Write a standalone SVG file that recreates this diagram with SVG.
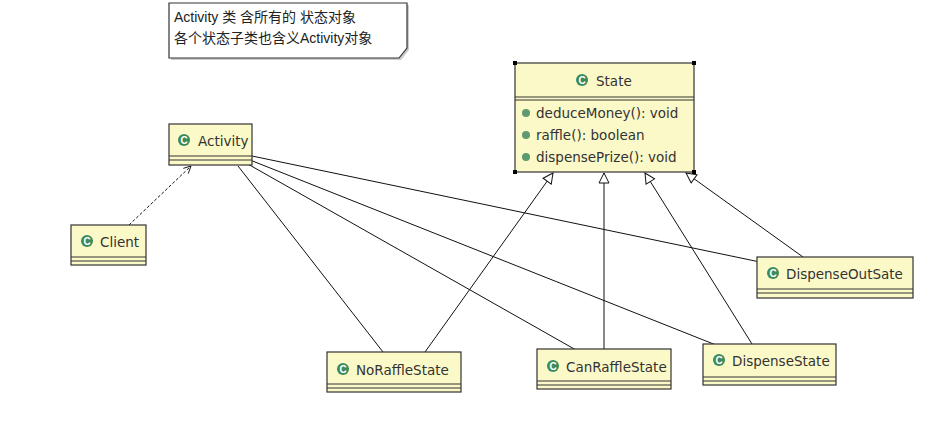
<svg xmlns="http://www.w3.org/2000/svg" width="926" height="426" viewBox="0 0 926 426">
<defs>
<style>
.box{fill:#fbf9c8;stroke:#333;stroke-width:1.2}
.sh{fill:#999;opacity:.5}
.t{font-family:"Liberation Sans","Noto Sans CJK SC",sans-serif;font-size:14px;fill:#222}
.u{font-family:"DejaVu Sans","Liberation Sans",sans-serif;font-size:13.5px;fill:#333}
.c{fill:#3b8a5a}
.cl{font-family:"Liberation Sans",sans-serif;font-size:10px;font-weight:bold;fill:#fff}
.ln{stroke:#111;stroke-width:1;fill:none}
.dot{fill:#5d9a6e}
</style>
<marker id="tri" viewBox="0 0 12 12" refX="11" refY="6" markerWidth="12" markerHeight="12" markerUnits="userSpaceOnUse" orient="auto"><path d="M1,1 L11,6 L1,11 Z" fill="#fff" stroke="#111"/></marker>
<marker id="open" viewBox="0 0 10 10" refX="9" refY="5" markerWidth="9" markerHeight="9" markerUnits="userSpaceOnUse" orient="auto"><path d="M1,1 L9,5 L1,9" fill="none" stroke="#111"/></marker>
</defs>
<rect width="926" height="426" fill="#fff"/>
<g id="note">
<path d="M171,5 H409 V50 L401,60 H171 Z" class="sh"/>
<path d="M169,3 H407 V48 L399,58 H169 Z" fill="#fff" stroke="#333" stroke-width="1.2"/>
<text x="174" y="22" class="t">Activity 类 含所有的 状态对象</text>
<text x="174" y="43" class="t">各个状态子类也含义Activity对象</text>
</g>
<g id="connectors">
<line x1="129" y1="225" x2="191" y2="166" class="ln" stroke-dasharray="3,2" marker-end="url(#open)"/>
<line x1="252" y1="156" x2="760" y2="262" class="ln"/>
<line x1="250" y1="160" x2="716" y2="345" class="ln"/>
<line x1="246" y1="163" x2="576" y2="350" class="ln"/>
<line x1="238" y1="166" x2="383" y2="352" class="ln"/>
<line x1="425" y1="352" x2="553" y2="173" class="ln" marker-end="url(#tri)"/>
<line x1="604" y1="349" x2="604" y2="173" class="ln" marker-end="url(#tri)"/>
<line x1="752" y1="344" x2="645" y2="173" class="ln" marker-end="url(#tri)"/>
<line x1="803" y1="257" x2="686" y2="173" class="ln" marker-end="url(#tri)"/>
</g>
<g id="State">
<rect x="515" y="63" width="179" height="109" class="box"/>
<line x1="515" y1="97" x2="694" y2="97" stroke="#333"/><line x1="515" y1="100" x2="694" y2="100" stroke="#333"/>
<circle cx="582" cy="80" r="6" class="c"/><text x="582" y="84" text-anchor="middle" class="cl">C</text>
<text x="596" y="86" class="u">State</text>
<circle cx="526" cy="113" r="4" class="dot"/><text x="536" y="118" class="u">deduceMoney(): void</text>
<circle cx="526" cy="135" r="4" class="dot"/><text x="536" y="140" class="u">raffle(): boolean</text>
<circle cx="526" cy="157" r="4" class="dot"/><text x="536" y="162" class="u">dispensePrize(): void</text>
<rect x="513" y="61" width="4" height="4" fill="#000"/><rect x="692" y="61" width="4" height="4" fill="#000"/>
<rect x="513" y="170" width="4" height="4" fill="#000"/><rect x="692" y="170" width="4" height="4" fill="#000"/>
</g>
<g id="Activity">
<rect x="169" y="124" width="83" height="41" class="box"/>
<line x1="169" y1="156" x2="252" y2="156" stroke="#333"/><line x1="169" y1="160" x2="252" y2="160" stroke="#333"/>
<circle cx="184" cy="140" r="6" class="c"/><text x="184" y="144" text-anchor="middle" class="cl">C</text>
<text x="198" y="146" class="u">Activity</text>
</g>
<g id="Client">
<rect x="71" y="225" width="75" height="40" class="box"/>
<line x1="71" y1="257" x2="146" y2="257" stroke="#333"/><line x1="71" y1="261" x2="146" y2="261" stroke="#333"/>
<circle cx="87" cy="241" r="6" class="c"/><text x="87" y="245" text-anchor="middle" class="cl">C</text>
<text x="100" y="247" class="u">Client</text>
</g>
<g id="DispenseOutSate">
<rect x="757" y="257" width="156" height="41" class="box"/>
<line x1="757" y1="289" x2="913" y2="289" stroke="#333"/><line x1="757" y1="293" x2="913" y2="293" stroke="#333"/>
<circle cx="773" cy="273" r="6" class="c"/><text x="773" y="277" text-anchor="middle" class="cl">C</text>
<text x="786" y="279" class="u">DispenseOutSate</text>
</g>
<g id="NoRaffleState">
<rect x="327" y="352" width="134" height="40" class="box"/>
<line x1="327" y1="384" x2="461" y2="384" stroke="#333"/><line x1="327" y1="388" x2="461" y2="388" stroke="#333"/>
<circle cx="343" cy="369" r="6" class="c"/><text x="343" y="373" text-anchor="middle" class="cl">C</text>
<text x="356" y="375" class="u">NoRaffleState</text>
</g>
<g id="CanRaffleState">
<rect x="537" y="349" width="134" height="40" class="box"/>
<line x1="537" y1="381" x2="671" y2="381" stroke="#333"/><line x1="537" y1="385" x2="671" y2="385" stroke="#333"/>
<circle cx="553" cy="366" r="6" class="c"/><text x="553" y="370" text-anchor="middle" class="cl">C</text>
<text x="566" y="372" class="u">CanRaffleState</text>
</g>
<g id="DispenseState">
<rect x="703" y="344" width="133" height="41" class="box"/>
<line x1="703" y1="377" x2="836" y2="377" stroke="#333"/><line x1="703" y1="381" x2="836" y2="381" stroke="#333"/>
<circle cx="719" cy="360" r="6" class="c"/><text x="719" y="364" text-anchor="middle" class="cl">C</text>
<text x="732" y="366" class="u">DispenseState</text>
</g>
</svg>
